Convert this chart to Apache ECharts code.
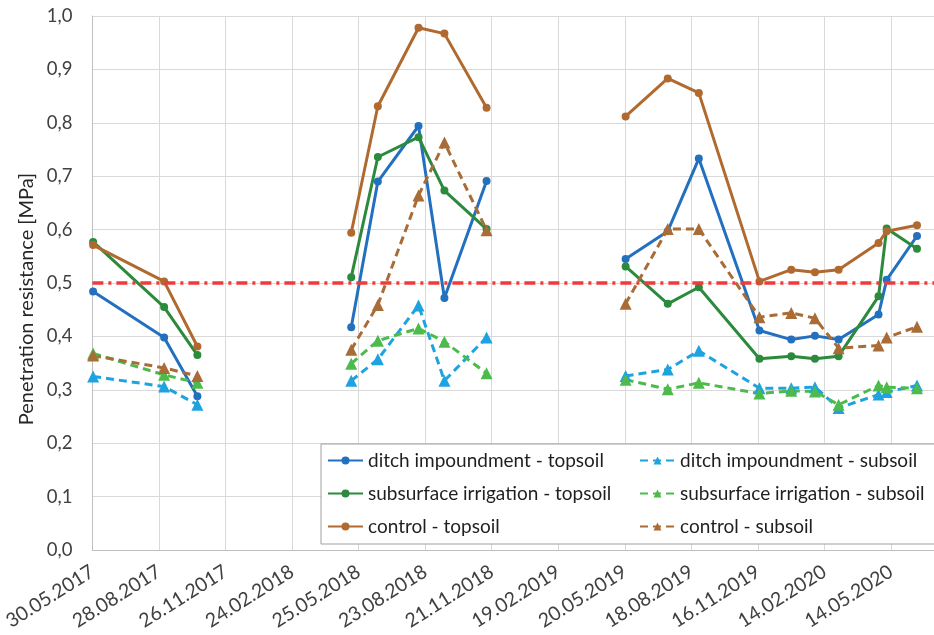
<!DOCTYPE html>
<html>
<head>
<meta charset="utf-8">
<script src="https://cdn.jsdelivr.net/npm/echarts@6/dist/echarts.min.js"></script>
<style>
html,body{margin:0;padding:0;background:#fff;}
#chart{width:934px;height:635px;}
</style>
</head>
<body>
<div id="chart"></div>
<script>
// Measurement dates (null values in the series mark gaps between seasons)
const dates = ['2017-05-31','2017-09-04','2017-10-19','2018-02-01',
  '2018-05-15','2018-06-20','2018-08-14','2018-09-18','2018-11-14','2019-02-15',
  '2019-05-21','2019-07-17','2019-08-28','2019-11-18','2019-12-31','2020-02-01',
  '2020-03-04','2020-04-27','2020-05-08','2020-06-18'];

const ditchTop = [0.484,0.398,0.288,null, 0.417,0.690,0.794,0.472,0.691,null,
  0.545,0.597,0.733,0.411,0.394,0.401,0.394,0.441,0.506,0.588];
const ditchSub = [0.325,0.306,0.272,null, 0.317,0.357,0.458,0.317,0.398,null,
  0.326,0.338,0.373,0.303,0.303,0.305,0.266,0.291,0.296,0.308];
const subTop = [0.577,0.455,0.365,null, 0.511,0.736,0.773,0.673,0.601,null,
  0.531,0.461,0.492,0.358,0.363,0.358,0.363,0.475,0.602,0.564];
const subSub = [0.368,0.328,0.313,null, 0.349,0.392,0.415,0.390,0.331,null,
  0.319,0.301,0.313,0.293,0.298,0.297,0.272,0.308,0.305,0.303];
const ctrlTop = [0.571,0.503,0.381,null, 0.594,0.831,0.978,0.967,0.828,null,
  0.812,0.883,0.856,0.503,0.525,0.520,0.525,0.575,0.597,0.608];
const ctrlSub = [0.364,0.341,0.326,null, 0.375,0.459,0.664,0.763,0.599,null,
  0.461,0.601,0.601,0.436,0.444,0.434,0.378,0.383,0.398,0.418];

const seriesNames = ['ditch impoundment - topsoil','ditch impoundment - subsoil',
  'subsurface irrigation - topsoil','subsurface irrigation - subsoil',
  'control - topsoil','control - subsoil'];
const thresholdValue = 0.5;
const axisStartDate = '2017-05-30';
const tickDays = 90;
const axisEndDays = 1138;
const yTitle = 'Penetration resistance [MPa]';

function utc(s){ const p = s.split('-').map(Number); return Date.UTC(p[0], p[1]-1, p[2]); }
const START = utc(axisStartDate);
function dayOf(s){ return Math.round((utc(s) - START) / 86400000); }
function fmtDate(v){
  const d = new Date(START + v * 86400000);
  const dd = String(d.getUTCDate()).padStart(2,'0');
  const mm = String(d.getUTCMonth()+1).padStart(2,'0');
  return dd + '.' + mm + '.' + d.getUTCFullYear();
}
function pairs(vals){ return dates.map((d,i) => [dayOf(d), vals[i] == null ? '-' : vals[i]]); }

const FONT = 'Lato';
const colors = ['#2371BE','#1FA3E0','#2B8A3C','#4DBB4B','#B06A30','#A96C36'];
const valueSets = [ditchTop, ditchSub, subTop, subSub, ctrlTop, ctrlSub];

const series = valueSets.map((vals, i) => {
  const sub = i % 2 === 1;
  const s = {
    name: seriesNames[i],
    type: 'line',
    data: pairs(vals),
    connectNulls: false,
    symbol: sub ? 'triangle' : 'circle',
    symbolSize: sub ? 12 : 8,
    showSymbol: true,
    lineStyle: { color: colors[i], width: 3, type: sub ? [8,5] : 'solid' },
    itemStyle: { color: colors[i], borderWidth: 0 },
    emphasis: { disabled: true }
  };
  if (i === 0) {
    s.markLine = {
      silent: true, symbol: ['none','none'], label: { show: false },
      lineStyle: { color: '#EF3B3B', width: 3.5, type: [11,5,3,5] },
      data: [{ yAxis: thresholdValue }]
    };
  }
  return s;
});

const chart = echarts.init(document.getElementById('chart'), null, { renderer: 'canvas' });
chart.setOption({
  animation: false,
  textStyle: { fontFamily: FONT },
  grid: { left: 91, right: 0, top: 16, bottom: 85, containLabel: false },
  xAxis: {
    type: 'value', min: 0, max: axisEndDays, interval: tickDays,
    axisLine: { show: true, lineStyle: { color: '#BFBFBF', width: 1 } },
    axisTick: { show: false },
    splitLine: { show: true, lineStyle: { color: '#D9D9D9', width: 1 } },
    axisLabel: {
      rotate: 32, margin: 20, showMaxLabel: false,
      fontFamily: FONT, fontSize: 19.5, color: '#404040',
      formatter: v => (v % tickDays === 0 ? fmtDate(v) : '')
    }
  },
  yAxis: {
    type: 'value', min: 0, max: 1, interval: 0.1,
    axisLine: { show: true, lineStyle: { color: '#BFBFBF', width: 1 } },
    axisTick: { show: false },
    splitLine: { show: true, lineStyle: { color: '#D9D9D9', width: 1 } },
    axisLabel: {
      margin: 20, fontFamily: FONT, fontSize: 18.5, color: '#404040',
      formatter: v => v.toFixed(1).replace('.', ',')
    }
  },
  legend: {
    data: seriesNames,
    left: 321, top: 444, width: 612,
    orient: 'horizontal',
    padding: [6, 3, 7, 6],
    itemGap: 12, itemWidth: 35, itemHeight: 10,
    backgroundColor: '#FFFFFF', borderColor: '#A0A0A0', borderWidth: 1,
    textStyle: { fontFamily: FONT, fontSize: 19, color: '#1F1F1F', width: 259, lineHeight: 21, overflow: 'none' },
    selectedMode: false
  },
  graphic: [{
    type: 'text', x: 27, y: 299, rotation: Math.PI / 2,
    style: { text: yTitle, font: '20px ' + FONT, fill: '#262626', align: 'center', verticalAlign: 'middle' }
  }],
  series: series
});
</script>
</body>
</html>
